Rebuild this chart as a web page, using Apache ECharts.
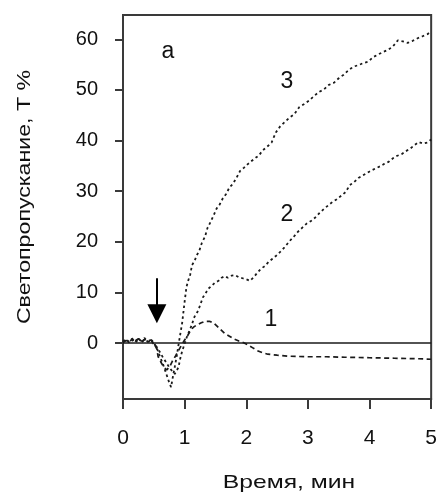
<!DOCTYPE html>
<html>
<head>
<meta charset="utf-8">
<script src="https://cdn.jsdelivr.net/npm/echarts@6/dist/echarts.min.js"></script>
<style>
  html, body { margin: 0; padding: 0; background: #fff; }
  #chart { width: 440px; height: 494px; }
</style>
</head>
<body>
<div id="chart"></div>
<script>
// Tick values
const xTicks = [0, 1, 2, 3, 4, 5];
const yTicks = [0, 10, 20, 30, 40, 50, 60];

// Curve 1
const time1 = [0, 0.05, 0.1, 0.15, 0.2, 0.25, 0.3, 0.35, 0.4, 0.45, 0.5, 0.55, 0.57, 0.6, 0.63, 0.67, 0.71, 0.76, 0.8, 0.85, 0.9, 0.95, 1.0, 1.05, 1.1, 1.15, 1.2, 1.27, 1.33, 1.4, 1.47, 1.53, 1.59, 1.65, 1.72, 1.8, 1.88, 1.95, 2.02, 2.1, 2.18, 2.26, 2.35, 2.5, 2.7, 3.0, 3.3, 3.6, 4.0, 4.4, 4.8, 5.0];
const trans1 = [0.1, 0.5, 0.2, 0.8, 0.3, 0.9, 0.1, 0.7, 0.4, 0.6, 0.0, -1.2, -2.7, -3.4, -4.1, -4.9, -5.3, -4.6, -3.6, -2.6, -1.5, -0.4, 0.6, 1.5, 2.6, 3.2, 3.6, 4.0, 4.3, 4.3, 4.0, 3.3, 2.6, 1.9, 1.4, 0.8, 0.4, 0.1, -0.3, -0.9, -1.5, -1.9, -2.2, -2.4, -2.6, -2.7, -2.7, -2.8, -2.9, -3.0, -3.1, -3.2];

// Curve 2
const time2 = [0, 0.05, 0.1, 0.15, 0.2, 0.25, 0.3, 0.35, 0.4, 0.45, 0.5, 0.55, 0.6, 0.65, 0.7, 0.75, 0.8, 0.84, 0.87, 0.9, 0.93, 0.96, 0.99, 1.03, 1.07, 1.11, 1.16, 1.22, 1.26, 1.3, 1.34, 1.38, 1.43, 1.49, 1.55, 1.6, 1.65, 1.7, 1.76, 1.82, 1.88, 1.94, 2.0, 2.06, 2.12, 2.18, 2.24, 2.3, 2.36, 2.42, 2.48, 2.55, 2.62, 2.7, 2.77, 2.84, 2.91, 2.98, 3.05, 3.12, 3.19, 3.26, 3.33, 3.4, 3.47, 3.54, 3.61, 3.68, 3.75, 3.82, 3.89, 3.96, 4.03, 4.1, 4.17, 4.24, 4.31, 4.38, 4.45, 4.52, 4.59, 4.66, 4.73, 4.8, 4.87, 4.94, 5.0];
const trans2 = [0.3, 0.8, 0.2, 0.6, 0.1, 0.7, 0.4, 1.0, 0.2, 0.5, -0.2, -0.8, -1.8, -2.9, -3.8, -4.8, -5.6, -6.1, -6.3, -4.8, -3.0, -1.6, -0.5, 1.0, 2.2, 3.4, 5.2, 6.4, 7.8, 9.1, 9.8, 10.7, 11.2, 11.9, 12.3, 12.9, 13.2, 12.9, 13.3, 13.4, 13.0, 12.8, 12.6, 12.3, 13.0, 13.9, 14.7, 15.2, 16.0, 16.6, 17.2, 18.0, 18.9, 20.1, 21.0, 22.0, 22.8, 23.6, 24.1, 24.8, 25.7, 26.5, 27.2, 27.9, 28.4, 29.1, 29.8, 31.2, 31.8, 32.6, 33.1, 33.6, 34.1, 34.5, 34.9, 35.4, 35.8, 36.5, 37.0, 37.3, 37.9, 38.4, 39.1, 39.7, 39.4, 39.6, 40.2];

// Curve 3
const time3 = [0, 0.05, 0.1, 0.15, 0.2, 0.25, 0.3, 0.35, 0.4, 0.45, 0.5, 0.55, 0.6, 0.65, 0.7, 0.75, 0.78, 0.81, 0.84, 0.87, 0.9, 0.93, 0.96, 1.0, 1.03, 1.06, 1.09, 1.12, 1.16, 1.2, 1.24, 1.28, 1.33, 1.37, 1.42, 1.47, 1.52, 1.57, 1.62, 1.67, 1.73, 1.78, 1.84, 1.9, 1.96, 2.02, 2.08, 2.14, 2.2, 2.27, 2.34, 2.41, 2.48, 2.55, 2.62, 2.7, 2.78, 2.86, 2.94, 3.02, 3.1, 3.18, 3.26, 3.34, 3.42, 3.5, 3.58, 3.66, 3.74, 3.82, 3.9, 3.98, 4.06, 4.14, 4.22, 4.3, 4.38, 4.46, 4.54, 4.62, 4.7, 4.78, 4.86, 4.94, 5.0];
const trans3 = [0.2, 0.6, 0.1, 0.9, 0.4, 1.0, 0.2, 0.8, 0.3, 0.7, 0.1, -1.0, -2.7, -4.2, -6.0, -7.8, -8.7, -6.6, -4.7, -2.7, -0.4, 1.8, 4.0, 8.2, 11.1, 12.4, 13.5, 15.4, 16.2, 17.4, 18.3, 19.8, 21.0, 22.7, 23.9, 25.2, 26.6, 27.4, 28.6, 29.4, 30.8, 31.4, 32.6, 34.0, 34.6, 35.3, 35.9, 36.5, 37.0, 38.1, 38.8, 39.6, 41.6, 42.8, 43.6, 44.5, 45.2, 46.6, 47.2, 47.9, 48.8, 49.6, 50.1, 51.0, 51.4, 52.3, 53.0, 53.9, 54.6, 54.9, 55.3, 55.6, 56.5, 57.0, 57.5, 57.9, 58.6, 59.8, 59.6, 59.3, 59.7, 60.2, 60.6, 61.0, 61.6];

// Curve labels and their anchor points (time, transmission)
const curveNames = ['1', '2', '3'];
const curveLabelX = [2.4, 2.66, 2.66];
const curveLabelY = [4.7, 25.4, 51.7];

// Panel letter
const panelLabel = 'а';
const panelLabelAt = [0.73, 57.6];

// Arrow marking the moment of addition
const arrowTime = 0.55;
const arrowFrom = 12.8;
const arrowTo = 5.8;

const FONT = '"Liberation Sans", Arial, sans-serif';
const INK = '#1a1a1a';
const FRAME = '#3a3a3a';

const toPairs = (t, v) => t.map((x, i) => [x, v[i]]);

function curveLabel(i) {
  return {
    symbol: 'circle',
    symbolSize: 0,
    silent: true,
    label: { show: true, position: 'inside', color: '#111', fontFamily: FONT, fontSize: 23 },
    data: [{ coord: [curveLabelX[i], curveLabelY[i]], label: { formatter: curveNames[i] } }]
  };
}

const chart = echarts.init(document.getElementById('chart'), null, { renderer: 'canvas' });

chart.setOption({
  animation: false,
  backgroundColor: '#fff',
  grid: {
    left: 123, right: 6, top: 15, bottom: 95,
    show: true, borderColor: FRAME, borderWidth: 2, backgroundColor: 'transparent'
  },
  xAxis: {
    type: 'value', min: 0, max: 5, interval: 1,
    axisLine: { show: true, onZero: false, lineStyle: { color: FRAME, width: 2 } },
    axisTick: { show: true, inside: false, length: 10, lineStyle: { color: FRAME, width: 2 } },
    axisLabel: {
      margin: 29, color: '#111', fontFamily: FONT, fontSize: 21,
      formatter: v => (xTicks.includes(v) ? String(v) : '')
    },
    splitLine: { show: false }
  },
  yAxis: {
    type: 'value', min: -11.05, max: 64.8,
    axisLine: { show: true, onZero: false, lineStyle: { color: FRAME, width: 2 } },
    axisTick: { show: true, inside: false, length: 8, customValues: yTicks, lineStyle: { color: FRAME, width: 2 } },
    axisLabel: { margin: 25, color: '#111', fontFamily: FONT, fontSize: 20, customValues: yTicks },
    splitLine: { show: false }
  },
  graphic: [
    {
      type: 'text', x: 25, y: 197, rotation: Math.PI / 2, scaleX: 1.22,
      style: { text: 'Светопропускание, Т %', font: '19px ' + FONT, fill: '#111', align: 'center', verticalAlign: 'middle' }
    },
    {
      type: 'text', x: 289, y: 483, scaleX: 1.3,
      style: { text: 'Время, мин', font: '19px ' + FONT, fill: '#111', align: 'center', verticalAlign: 'middle' }
    }
  ],
  series: [
    {
      type: 'line', name: '1', data: toPairs(time1, trans1),
      showSymbol: false, silent: true,
      lineStyle: { color: INK, width: 1.7, type: [5, 3.5] },
      markPoint: curveLabel(0),
      markLine: {
        silent: true, symbol: 'none', label: { show: false },
        lineStyle: { color: INK, width: 1.6, type: 'solid' },
        data: [{ yAxis: 0 }]
      }
    },
    {
      type: 'line', name: '2', data: toPairs(time2, trans2),
      showSymbol: false, silent: true,
      lineStyle: { color: INK, width: 1.8, type: [2.5, 3] },
      markPoint: curveLabel(1),
      markLine: {
        silent: true, symbol: ['none', 'triangle'], symbolSize: 19, label: { show: false },
        itemStyle: { color: '#000' },
        lineStyle: { color: '#000', width: 2, type: 'solid' },
        data: [[{ coord: [arrowTime, arrowFrom] }, { coord: [arrowTime, arrowTo] }]]
      }
    },
    {
      type: 'line', name: '3', data: toPairs(time3, trans3),
      showSymbol: false, silent: true,
      lineStyle: { color: INK, width: 1.8, type: [2.5, 3] },
      markPoint: {
        symbol: 'circle', symbolSize: 0, silent: true,
        label: { show: true, position: 'inside', color: '#111', fontFamily: FONT, fontSize: 23 },
        data: [
          { coord: [curveLabelX[2], curveLabelY[2]], label: { formatter: curveNames[2] } },
          { coord: panelLabelAt, label: { formatter: panelLabel } }
        ]
      }
    }
  ]
});
</script>
</body>
</html>
